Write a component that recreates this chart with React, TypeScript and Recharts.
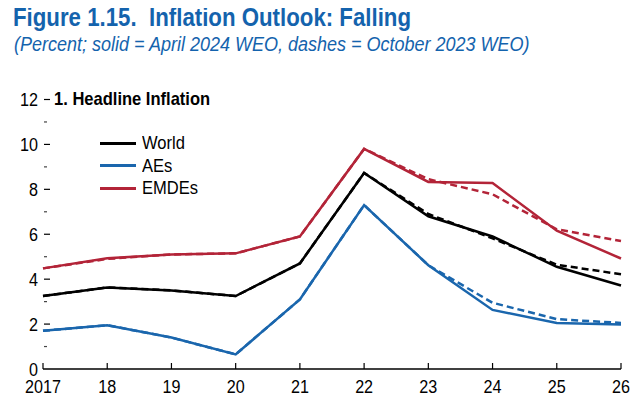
import React from "react";
import { LineChart, Line, XAxis, YAxis } from "recharts";

const years = ["2017", "18", "19", "20", "21", "22", "23", "24", "25", "26"];
const worldApr = [3.25, 3.63, 3.5, 3.25, 4.7, 8.73, 6.8, 5.9, 4.55, 3.72];
const worldOct = [3.25, 3.63, 3.5, 3.25, 4.7, 8.73, 6.9, 5.82, 4.64, 4.22];
const aesApr = [1.7, 1.95, 1.4, 0.65, 3.1, 7.3, 4.62, 2.63, 2.05, 1.98];
const aesOct = [1.7, 1.95, 1.4, 0.65, 3.1, 7.3, 4.62, 2.95, 2.22, 2.05];
const emdeApr = [4.48, 4.93, 5.1, 5.15, 5.9, 9.8, 8.33, 8.28, 6.16, 4.92];
const emdeOct = [4.48, 4.9, 5.1, 5.15, 5.9, 9.8, 8.45, 7.78, 6.22, 5.7];
const yTicks = [0, 1, 2, 3, 4, 5, 6, 7, 8, 9, 10, 11, 12];

const data = years.map((y, i) => ({
  year: y,
  worldApr: worldApr[i],
  worldOct: worldOct[i],
  aesApr: aesApr[i],
  aesOct: aesOct[i],
  emdeApr: emdeApr[i],
  emdeOct: emdeOct[i],
}));

const BLACK = "#000000";
const BLUE = "#1a66ad";
const RED = "#b32438";
const FONT = "'Liberation Sans', Arial, sans-serif";

const LeftTick = (props: any) => {
  const { x, y, payload } = props;
  const v = payload.value;
  const major = v % 2 === 0;
  return (
    <g>
      {v !== 0 && (
        <line x1={x + 1} x2={x + (major ? 7 : 4)} y1={y} y2={y} stroke={major ? "#000" : "#444"} strokeWidth={1.2} />
      )}
      {major && (
        <text
          x={0}
          y={0}
          dy="0.36em"
          textAnchor="end"
          fontSize={19}
          fontFamily={FONT}
          fill="#000"
          transform={`translate(${x - 5}, ${y}) scale(0.85, 1)`}
        >
          {v}
        </text>
      )}
    </g>
  );
};

const RightTick = (props: any) => {
  const { x, y, payload } = props;
  const v = payload.value;
  const major = v % 2 === 0;
  if (v === 0) return <g />;
  return (
    <g>
      <line x1={x - (major ? 7 : 4)} x2={x - 1} y1={y} y2={y} stroke={major ? "#000" : "#444"} strokeWidth={1.2} />
    </g>
  );
};

const XTick = (props: any) => {
  const { x, y, payload } = props;
  return (
    <g>
      <line x1={x} x2={x} y1={y} y2={y - 6} stroke="#000" strokeWidth={1.2} />
      <text
        x={0}
        y={0}
        textAnchor="middle"
        fontSize={19}
        fontFamily={FONT}
        fill="#000"
        transform={`translate(${x}, ${y + 24}) scale(0.85, 1)`}
      >
        {payload.value}
      </text>
    </g>
  );
};

const legendItems = [
  { label: "World", color: BLACK },
  { label: "AEs", color: BLUE },
  { label: "EMDEs", color: RED },
];

const narrow = (sx: number): React.CSSProperties => ({
  transform: `scaleX(${sx})`,
  transformOrigin: "left center",
});

export default function App() {
  return (
    <div style={{ position: "relative", width: 640, height: 405, margin: -8, background: "#fff", overflow: "hidden" }}>
      <div
        style={{
          position: "absolute",
          left: 13,
          top: 3,
          fontFamily: FONT,
          fontWeight: "bold",
          fontSize: 25,
          color: "#1463ad",
          whiteSpace: "pre",
          ...narrow(0.89),
        }}
      >
        {"Figure 1.15.  Inflation Outlook: Falling"}
      </div>
      <div
        style={{
          position: "absolute",
          left: 14,
          top: 33,
          fontFamily: FONT,
          fontStyle: "italic",
          fontSize: 20,
          color: "#1463ad",
          whiteSpace: "pre",
          ...narrow(0.9),
        }}
      >
        (Percent; solid = April 2024 WEO, dashes = October 2023 WEO)
      </div>
      <div
        style={{
          position: "absolute",
          left: 54,
          top: 88,
          fontFamily: FONT,
          fontWeight: "bold",
          fontSize: 19,
          color: "#000",
          whiteSpace: "pre",
          ...narrow(0.87),
        }}
      >
        1. Headline Inflation
      </div>
      {legendItems.map((it, i) => (
        <div
          key={it.label}
          style={{
            position: "absolute",
            left: 100,
            top: 132 + i * 22.5,
            height: 22,
            display: "flex",
            alignItems: "center",
            fontFamily: FONT,
            fontSize: 19,
            color: "#000",
          }}
        >
          <span style={{ display: "inline-block", width: 36, height: 3, background: it.color, marginRight: 6 }} />
          <span style={{ display: "inline-block", ...narrow(0.87) }}>{it.label}</span>
        </div>
      ))}
      <div style={{ position: "absolute", left: 0, top: 0 }}>
        <LineChart width={640} height={405} data={data} margin={{ top: 99.5, right: 18, bottom: 0, left: 42 }}>
          <XAxis
            dataKey="year"
            axisLine={{ stroke: "#000", strokeWidth: 1.3 }}
            tickLine={false}
            tickSize={0}
            tickMargin={0}
            tick={<XTick />}
            interval={0}
            height={36}
          />
          <YAxis
            yAxisId="l"
            domain={[0, 12]}
            ticks={yTicks}
            interval={0}
            width={1}
            axisLine={false}
            tickLine={false}
            tickSize={0}
            tickMargin={0}
            tick={<LeftTick />}
          />
          <YAxis
            yAxisId="r"
            orientation="right"
            domain={[0, 12]}
            ticks={yTicks}
            interval={0}
            width={1}
            axisLine={false}
            tickLine={false}
            tickSize={0}
            tickMargin={0}
            tick={<RightTick />}
          />
          <Line yAxisId="l" dataKey="emdeApr" stroke={RED} strokeWidth={2.5} dot={false} isAnimationActive={false} />
          <Line yAxisId="l" dataKey="worldApr" stroke={BLACK} strokeWidth={2.5} dot={false} isAnimationActive={false} />
          <Line yAxisId="l" dataKey="aesApr" stroke={BLUE} strokeWidth={2.5} dot={false} isAnimationActive={false} />
          <Line yAxisId="l" dataKey="emdeOct" stroke={RED} strokeWidth={2.5} strokeDasharray="7 4" dot={false} isAnimationActive={false} />
          <Line yAxisId="l" dataKey="worldOct" stroke={BLACK} strokeWidth={2.5} strokeDasharray="7 4" dot={false} isAnimationActive={false} />
          <Line yAxisId="l" dataKey="aesOct" stroke={BLUE} strokeWidth={2.5} strokeDasharray="7 4" dot={false} isAnimationActive={false} />
        </LineChart>
      </div>
    </div>
  );
}
